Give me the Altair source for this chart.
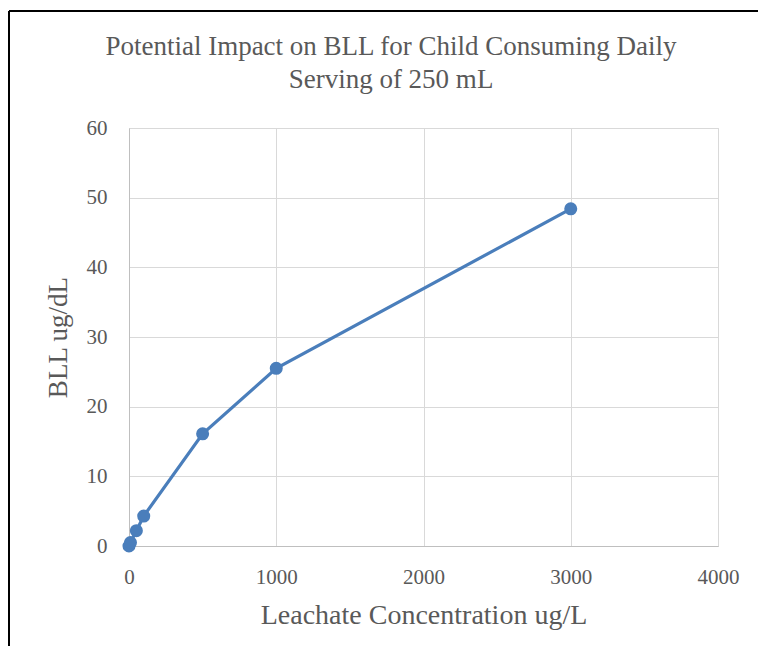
import altair as alt
import pandas as pd

concentration = [0, 10, 50, 100, 500, 1000, 3000]
bll = [0.0, 0.5, 2.2, 4.3, 16.1, 25.5, 48.4]

x_ticks = [0, 1000, 2000, 3000, 4000]
y_ticks = [0, 10, 20, 30, 40, 50, 60]

title_lines = ["Potential Impact on BLL for Child Consuming Daily", "Serving of 250 mL"]

df = pd.DataFrame({"conc": concentration, "bll": bll})

FONT = "Liberation Serif"
GRAY = "#595959"
BLUE = "#4a7ebb"

base = alt.Chart(df).encode(
    x=alt.X("conc:Q",
            scale=alt.Scale(domain=[0, 4000], nice=False),
            axis=alt.Axis(values=x_ticks, title="Leachate Concentration ug/L",
                          grid=True, gridColor="#d9d9d9", domainColor="#bfbfbf",
                          ticks=False, labelPadding=20, titlePadding=14,
                          labelFontSize=21, titleFontSize=28, labelFlush=False,
                          labelColor=GRAY, titleColor=GRAY,
                          labelFont=FONT, titleFont=FONT,
                          titleFontWeight="normal", format="d")),
    y=alt.Y("bll:Q",
            scale=alt.Scale(domain=[0, 60], nice=False),
            axis=alt.Axis(values=y_ticks, title="BLL ug/dL",
                          grid=True, gridColor="#d9d9d9", domainColor="#bfbfbf",
                          ticks=False, labelPadding=22, titlePadding=14,
                          labelFontSize=21, titleFontSize=27, labelFlush=False,
                          labelColor=GRAY, titleColor=GRAY,
                          labelFont=FONT, titleFont=FONT,
                          titleFontWeight="normal")),
)

line = base.mark_line(color=BLUE, strokeWidth=3.2)
pts = base.mark_circle(color=BLUE, size=170, opacity=1)

border_left = alt.Chart(df).mark_rule(color="black", strokeWidth=2).encode(
    x=alt.value(-120), y=alt.value(-117), y2=alt.value(540))
border_top = alt.Chart(df).mark_rule(color="black", strokeWidth=2).encode(
    x=alt.value(-120), x2=alt.value(640), y=alt.value(-117))

title1 = alt.Chart(pd.DataFrame({"t": [title_lines[0]]})).mark_text(
    font=FONT, fontSize=27, color=GRAY, align="center", baseline="middle"
).encode(text="t:N", x=alt.value(262), y=alt.value(-81))
title2 = alt.Chart(pd.DataFrame({"t": [title_lines[1]]})).mark_text(
    font=FONT, fontSize=27, color=GRAY, align="center", baseline="middle"
).encode(text="t:N", x=alt.value(262), y=alt.value(-48))

chart = alt.layer(border_left, border_top, line, pts, title1, title2).properties(
    width=589, height=418,
    autosize=alt.AutoSizeParams(type="none"),
    padding={"left": 121, "top": 120, "right": 40, "bottom": 100},
).configure_view(stroke="#d9d9d9")

chart.save("out.html", embed_options={"renderer": "svg", "actions": False})
